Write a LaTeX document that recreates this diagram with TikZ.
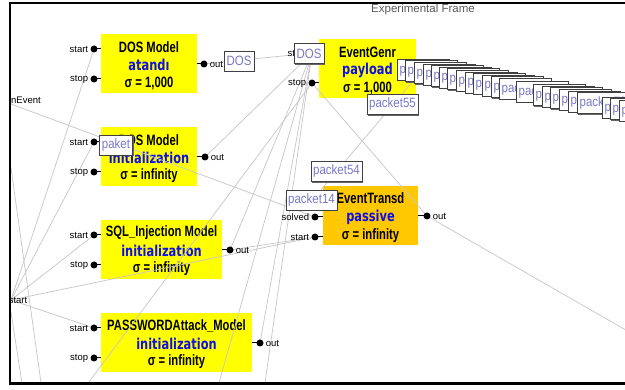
\documentclass[tikz,border=0pt]{standalone}
\usepackage{fontspec}
\setmainfont{Liberation Sans}
\newfontfamily\namefont[FakeStretch=0.75]{Liberation Sans}
\newfontfamily\phasefont[FakeStretch=0.76]{DejaVu Sans}
\newfontfamily\msgfont[FakeStretch=0.85]{Liberation Sans}
\usetikzlibrary{shadows}

\definecolor{modelyellow}{RGB}{255,255,0}
\definecolor{transorange}{RGB}{255,200,0}
\definecolor{phaseblue}{RGB}{15,15,235}
\definecolor{msgtext}{RGB}{120,120,200}
\definecolor{wiregray}{RGB}{200,200,200}

\tikzset{
  modelbox/.style={fill=modelyellow, draw=none, anchor=north west, inner sep=0pt, minimum height=59pt},
  nametext/.style={font=\namefont\bfseries\fontsize{15}{16}\selectfont, inner sep=0pt},
  phasetext/.style={font=\phasefont\bfseries\fontsize{15}{16}\selectfont, text=phaseblue, inner sep=0pt},
  wire/.style={draw=wiregray, line width=0.75pt},
  stub/.style={draw=black, line width=1pt},
  pin/.style={circle, fill=black, inner sep=0pt, minimum size=7pt},
  pinlabel/.style={font=\fontsize{9.5}{10}\selectfont, inner sep=0pt},
  msg/.style={draw=black!75, fill=white, text=msgtext, font=\msgfont\fontsize{13.5}{14}\selectfont,
    inner xsep=2.5pt, inner ysep=0pt, minimum height=20pt,
    drop shadow={shadow xshift=1.2pt, shadow yshift=-1.2pt, fill=black!60, opacity=1}},
}

% input pin: stub to the box's west side, dot, label on the left
\newcommand\leftpin[3]{%
  \draw[stub] (#1-#2) -- (#1-#2 -| #1.west);
  \node[pin] (#1-#2-pin) at (#1-#2) {};
  \node[pinlabel, anchor=east] (#1-#2-label) at ([xshift=-2pt]#1-#2-pin.west) {#3};}
% output pin: stub to the box's east side, dot, label on the right
\newcommand\rightpin[3]{%
  \draw[stub] (#1-#2) -- (#1-#2 -| #1.east);
  \node[pin] (#1-#2-pin) at (#1-#2) {};
  \node[pinlabel, anchor=west] (#1-#2-label) at ([xshift=2pt]#1-#2-pin.east) {#3};}

\begin{document}
\begin{tikzpicture}[x=1pt,y=-1pt]
\useasboundingbox (0,0) rectangle (625,390);

\begin{scope}
\clip (10,3) rectangle (625,383);

% ---------- atomic models ----------
\node[modelbox, minimum width=96pt] (dosA) at (101,34) {};
\node[nametext] (dosA-name) at (149,47) {DOS Model};
\node[phasetext] (dosA-phase) at (149,65) {atandı};
\node[nametext] (dosA-sigma) at (149,83) {σ = 1,000};

\node[modelbox, minimum width=96pt] (dosB) at (101,127) {};
\node[nametext] (dosB-name) at (149,140) {DOS Model};
\node[phasetext] (dosB-phase) at (149,158) {initialization};
\node[nametext] (dosB-sigma) at (149,176) {σ = infinity};

\node[modelbox, minimum width=121pt] (sql) at (101,220) {};
\node[nametext] (sql-name) at (161.5,233) {SQL\_Injection Model};
\node[phasetext] (sql-phase) at (161.5,251) {initialization};
\node[nametext] (sql-sigma) at (161.5,269) {σ = infinity};

\node[modelbox, minimum width=151pt] (pw) at (101,313) {};
\node[nametext] (pw-name) at (176.5,326) {PASSWORDAttack\_Model};
\node[phasetext] (pw-phase) at (176.5,344) {initialization};
\node[nametext] (pw-sigma) at (176.5,362) {σ = infinity};

\node[modelbox, minimum width=97pt] (gen) at (319,39) {};
\node[nametext] (gen-name) at (367.5,52) {EventGenr};
\node[phasetext] (gen-phase) at (367.5,70) {payload};
\node[nametext] (gen-sigma) at (367.5,88) {σ = 1,000};

\node[modelbox, minimum width=95pt, fill=transorange] (trans) at (323,186) {};
\node[nametext] (trans-name) at (370.5,198) {EventTransd};
\node[phasetext] (trans-phase) at (370.5,217) {passive};
\node[nametext] (trans-sigma) at (370.5,236) {σ = infinity};

% ---------- port positions ----------
\coordinate (dosA-start) at (94,49);  \coordinate (dosA-stop) at (94,79);  \coordinate (dosA-out) at (204,64);
\coordinate (dosB-start) at (94,142); \coordinate (dosB-stop) at (94,172); \coordinate (dosB-out) at (205,157);
\coordinate (sql-start) at (94,235);  \coordinate (sql-stop) at (94,265);  \coordinate (sql-out) at (230,250);
\coordinate (pw-start) at (94,328);   \coordinate (pw-stop) at (94,358);   \coordinate (pw-out) at (260,343);
\coordinate (gen-start) at (312,53);  \coordinate (gen-stop) at (312,83);  \coordinate (gen-out) at (423,69);
\coordinate (trans-ariv) at (315,197); \coordinate (trans-solved) at (315,217);
\coordinate (trans-start) at (315,237); \coordinate (trans-out) at (427,216);

% ports of the enclosing frame and links leaving the view
\coordinate (frame-inEvent) at (11,104);
\coordinate (frame-start) at (11,300);
\coordinate (frame-out) at (645,341);
\coordinate (edgeA) at (11,168);  \coordinate (edgeA-end) at (42,390);
\coordinate (edgeB) at (11,312);  \coordinate (edgeB-end) at (23,390);
\coordinate (floorA) at (83,390); \coordinate (floorB) at (217,390); \coordinate (floorC) at (264,390);

% ---------- couplings ----------
\draw[wire] (frame-inEvent) -- (trans-solved);
\draw[wire] (frame-start) -- (dosA-start);
\draw[wire] (frame-start) -- (dosB-start);
\draw[wire] (frame-start) -- (sql-start);
\draw[wire] (frame-start) -- (pw-start);
\draw[wire] (frame-start) -- (trans-start);
\draw[wire] (dosA-out) -- (gen-start);
\draw[wire] (gen-start) -- (dosB-out);
\draw[wire] (gen-start) -- (sql-out);
\draw[wire] (gen-start) -- (pw-out);
\draw[wire] (gen-start) -- (floorB);
\draw[wire] (gen-start) -- (floorC);
\draw[wire] (gen-stop) -- (floorA);
\draw[wire] (sql-out) -- (trans-start);
\draw[wire] (trans-out) -- (gen-stop);
\draw[wire] (trans-out) -- (frame-out);
\draw[wire] (gen-out) -- (trans-ariv);
\draw[wire] (edgeA) -- (edgeA-end);
\draw[wire] (edgeB) -- (edgeB-end);

% ---------- pins ----------
\leftpin{dosA}{start}{start} \leftpin{dosA}{stop}{stop} \rightpin{dosA}{out}{out}
\leftpin{dosB}{start}{start} \leftpin{dosB}{stop}{stop} \rightpin{dosB}{out}{out}
\leftpin{sql}{start}{start}  \leftpin{sql}{stop}{stop}  \rightpin{sql}{out}{out}
\leftpin{pw}{start}{start}   \leftpin{pw}{stop}{stop}   \rightpin{pw}{out}{out}
\leftpin{gen}{start}{start}  \leftpin{gen}{stop}{stop}
\leftpin{trans}{solved}{solved} \leftpin{trans}{start}{start} \rightpin{trans}{out}{out}

\node[pinlabel, anchor=west] (frame-inEvent-label) at (11,100) {nEvent};
\node[pinlabel, anchor=east] (frame-start-label) at (27.5,300) {start};
\node[font=\fontsize{11.5}{12}\selectfont, text=black!65] (frame-title) at (423,10) {Experimental Frame};

% ---------- messages in transit ----------
\node[msg] (msg-dosA) at (239,61) {DOS};
\node[msg] (msg-dosB) at (309,53.5) {DOS};
\node[msg] (msg-paket) at (116,145) {paket};
\node[msg] (msg-55) at (392.5,104.5) {packet55};
\node[msg] (msg-54) at (336.5,171.5) {packet54};
\node[msg] (msg-14) at (311.5,200) {packet14};

% burst of packets queued on the generator output
\foreach \px [count=\k] in {397,405,414,423,431,439,447,456,465,473,482,491,499,516,533,542,550,559,568,577,602,610,619}{
  \pgfmathsetmacro\py{59+0.185*(\px-397)}
  \pgfmathtruncatemacro\pn{56+\k}
  \node[msg, anchor=north west, minimum height=21pt] (burst-\k) at (\px,\py) {packet\pn};
}
\end{scope}

% ---------- frame border ----------
\draw[line width=1.3pt] (625,3) -- (10,3) -- (10,383);
\draw[line width=2.2pt] (9.35,383.5) -- (625,383.5);
\end{tikzpicture}
\end{document}
